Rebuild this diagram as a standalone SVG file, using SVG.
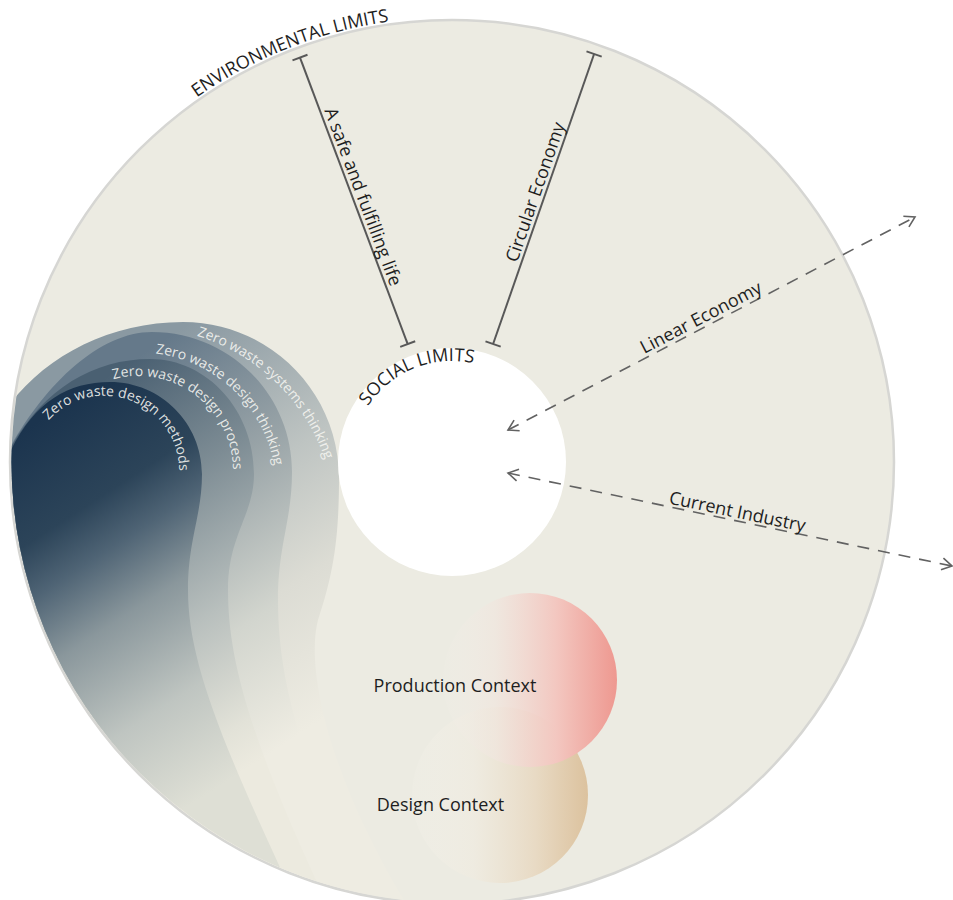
<svg xmlns="http://www.w3.org/2000/svg" width="953" height="900" viewBox="0 0 953 900">
<style>
  .lbl { font-family: "Open Sans", "Noto Sans", "Liberation Sans", sans-serif; font-size: 18px; fill: #1e1e1e; }
  .zw { font-family: "Open Sans", "Noto Sans", "Liberation Sans", sans-serif; font-size: 14px; fill: #f5f5f1; fill-opacity: 0.9; }
  .bar { stroke: #585858; stroke-width: 2; fill: none; }
  .dash { stroke: #626262; stroke-width: 1.6; fill: none; stroke-dasharray: 12 9; marker-start: url(#chev); marker-end: url(#chev); }
</style>
<defs>
  <clipPath id="disc"><circle cx="452" cy="462" r="440.5"/></clipPath>

  <!-- zero waste layers: one shared axis, darker to the upper left -->
  <linearGradient id="gSys" gradientUnits="userSpaceOnUse" x1="40" y1="420" x2="260" y2="760">
    <stop offset="0" stop-color="#8a99a2"/>
    <stop offset="0.4" stop-color="#bec4c2"/>
    <stop offset="0.68" stop-color="#dcdcd4"/>
    <stop offset="1" stop-color="#eeece2"/>
  </linearGradient>
  <linearGradient id="gThink" gradientUnits="userSpaceOnUse" x1="40" y1="420" x2="260" y2="760">
    <stop offset="0" stop-color="#65798a"/>
    <stop offset="0.34" stop-color="#98a3a7"/>
    <stop offset="0.7" stop-color="#d2d5ce"/>
    <stop offset="1" stop-color="#eeece2"/>
  </linearGradient>
  <linearGradient id="gProc" gradientUnits="userSpaceOnUse" x1="40" y1="420" x2="260" y2="760">
    <stop offset="0" stop-color="#4a6072"/>
    <stop offset="0.31" stop-color="#7d8c94"/>
    <stop offset="0.63" stop-color="#b8bfbd"/>
    <stop offset="0.9" stop-color="#e2e2d8"/>
    <stop offset="1" stop-color="#eceadf"/>
  </linearGradient>
  <linearGradient id="gMeth" gradientUnits="userSpaceOnUse" x1="40" y1="420" x2="260" y2="760">
    <stop offset="0" stop-color="#1b344e"/>
    <stop offset="0.24" stop-color="#2c4459"/>
    <stop offset="0.36" stop-color="#4f6475"/>
    <stop offset="0.52" stop-color="#8a979c"/>
    <stop offset="0.76" stop-color="#bfc5c1"/>
    <stop offset="1" stop-color="#dedfd5"/>
  </linearGradient>

  <!-- context circles fade in from the left -->
  <linearGradient id="gProd" gradientUnits="userSpaceOnUse" x1="443" y1="0" x2="617" y2="0">
    <stop offset="0" stop-color="#f2efe8" stop-opacity="0.15"/>
    <stop offset="0.3" stop-color="#f0e6de" stop-opacity="0.75"/>
    <stop offset="0.65" stop-color="#f3c7c0"/>
    <stop offset="1" stop-color="#ee9890"/>
  </linearGradient>
  <linearGradient id="gDes" gradientUnits="userSpaceOnUse" x1="412" y1="0" x2="588" y2="0">
    <stop offset="0" stop-color="#f3f1e9" stop-opacity="0.25"/>
    <stop offset="0.35" stop-color="#efebe0" stop-opacity="0.8"/>
    <stop offset="0.7" stop-color="#e8dac4"/>
    <stop offset="1" stop-color="#dcc29e"/>
  </linearGradient>

  <marker id="chev" viewBox="-2 -8 14 16" refX="10" refY="0" markerWidth="14" markerHeight="16" markerUnits="userSpaceOnUse" orient="auto-start-reverse">
    <path d="M0,-6 L10,0 L0,6" fill="none" stroke="#626262" stroke-width="1.6"/>
  </marker>

  <!-- baselines for curved labels -->
  <path id="envArc" d="M 196.7 97.5 A 445 445 0 0 1 529.3 23.8"/>
  <path id="socArc" d="M 367.8 406.3 A 101 101 0 0 1 529.4 397.1"/>
  <path id="arcSys" d="M 196.9 335.8 A 197 197 0 0 1 336 524"/>
  <path id="arcThink" d="M 155.5 353.5 A 137.5 137.5 0 0 1 274.4 513.9"/>
  <path id="arcProc" d="M 113.4 379.2 A 95 95 0 0 1 227.3 503.5"/>
  <path id="arcMeth" d="M 48.7 420.3 A 75 75 0 0 1 169 508.5"/>
</defs>

<g id="environmental-limits">
  <circle cx="452" cy="462" r="442" fill="#ecebe2" stroke="#d6d6d3" stroke-width="2.5"/>
  <text class="lbl"><textPath href="#envArc">ENVIRONMENTAL LIMITS</textPath></text>
</g>

<g id="zero-waste" clip-path="url(#disc)">
  <path id="zw-systems-thinking" d="M -20 470 C -5 390, 80 322, 183 322 C 269.2 322, 339 391.8, 339 478 C 339 540, 333 575, 318 620 C 305 670, 330 780, 410 910 L -20 910 Z" fill="url(#gSys)"/>
  <path id="zw-design-thinking" d="M -20 520 C 5 430, 80 332, 152 332 C 229.3 332, 292 394.7, 292 472 C 292 520, 278 545, 278 600 C 278 680, 300 760, 370 910 L -20 910 Z" fill="url(#gThink)"/>
  <path id="zw-design-process" d="M -20 540 C 0 420, 70 359, 150 359 C 207.4 359, 254 410.5, 254 474 C 254 515, 228 535, 228 590 C 228 660, 250 740, 330 910 L -20 910 Z" fill="url(#gProc)"/>
  <path id="zw-design-methods" d="M -20 560 C 0 430, 45 382, 110 382 C 160.8 382, 202 423.2, 202 474 C 202 515, 188 540, 188 590 C 188 660, 220 740, 300 910 L -20 910 Z" fill="url(#gMeth)"/>
  <g id="zero-waste-labels">
    <text class="zw"><textPath href="#arcSys">Zero waste systems thinking</textPath></text>
    <text class="zw"><textPath href="#arcThink">Zero waste design thinking</textPath></text>
    <text class="zw"><textPath href="#arcProc">Zero waste design process</textPath></text>
    <text class="zw"><textPath href="#arcMeth">Zero waste design methods</textPath></text>
  </g>
</g>

<g id="social-limits">
  <circle cx="452" cy="462" r="114" fill="#ffffff"/>
  <text class="lbl"><textPath href="#socArc">SOCIAL LIMITS</textPath></text>
</g>

<g id="design-context">
  <circle cx="500" cy="795" r="88" fill="url(#gDes)"/>
  <text class="lbl" x="440.5" y="811" text-anchor="middle">Design Context</text>
</g>

<g id="production-context">
  <circle cx="530" cy="680" r="87" fill="url(#gProd)"/>
  <text class="lbl" x="455" y="692" text-anchor="middle">Production Context</text>
</g>

<g id="connectors">
  <!-- safe and fulfilling life: social to environmental limit -->
  <line class="bar" x1="300" y1="57.6" x2="407.7" y2="344.1"/>
  <line class="bar" x1="292.5" y1="60.4" x2="307.5" y2="54.8"/>
  <line class="bar" x1="400.2" y1="346.9" x2="415.2" y2="341.3"/>
  <text class="lbl" transform="translate(300 57.6) rotate(69.4)" x="58" y="-4">A safe and fulfilling life</text>

  <!-- circular economy -->
  <line class="bar" x1="594.1" y1="54" x2="493.1" y2="344"/>
  <line class="bar" x1="586.5" y1="51.4" x2="601.7" y2="56.6"/>
  <line class="bar" x1="485.5" y1="341.4" x2="500.7" y2="346.6"/>
  <text class="lbl" transform="translate(493.1 344) rotate(-70.8)" x="84" y="-4">Circular Economy</text>

  <!-- linear economy -->
  <line class="dash" x1="508" y1="430" x2="915" y2="217"/>
  <text class="lbl" transform="translate(508 430) rotate(-27.63)" x="156" y="-4">Linear Economy</text>

  <!-- current industry -->
  <line class="dash" x1="508" y1="473" x2="952" y2="566"/>
  <text class="lbl" transform="translate(508 473) rotate(11.83)" x="163" y="-3">Current Industry</text>
</g>
</svg>
